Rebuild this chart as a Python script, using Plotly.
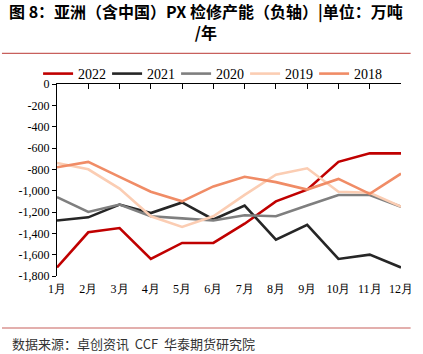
import plotly.graph_objects as go

months = ["1月", "2月", "3月", "4月", "5月", "6月", "7月", "8月", "9月", "10月", "11月", "12月"]
s2022 = [-1720, -1390, -1350, -1640, -1490, -1490, -1310, -1100, -990, -730, -650, -650]
s2021 = [-1280, -1250, -1130, -1210, -1110, -1270, -1140, -1460, -1320, -1640, -1600, -1720]
s2020 = [-1060, -1200, -1130, -1240, -1260, -1280, -1230, -1240, -1140, -1040, -1040, -1150]
s2019 = [-740, -800, -980, -1240, -1340, -1240, -1040, -850, -790, -1010, -1020, -1150]
s2018 = [-780, -730, -870, -1010, -1100, -960, -870, -920, -990, -890, -1030, -840]
y_ticks = [0, -200, -400, -600, -800, -1000, -1200, -1400, -1600, -1800]
y_labels = ["0", "-200", "-400", "-600", "-800", "-1,000", "-1,200", "-1,400", "-1,600", "-1,800"]

series = [
    ("2022", s2022, "#C00000"),
    ("2021", s2021, "#262626"),
    ("2020", s2020, "#7F7F7F"),
    ("2019", s2019, "#FBCDB3"),
    ("2018", s2018, "#F08C66"),
]

fig = go.Figure()
for name, vals, col in series:
    fig.add_trace(go.Scatter(x=months, y=vals, name=name, mode="lines",
                             line=dict(color=col, width=2.6)))
fig.add_trace(go.Scatter(x=months, y=[None] * 12, xaxis="x2", showlegend=False,
                         hoverinfo="skip", mode="lines"))

serif = "'Times New Roman', 'Liberation Serif', serif"
fig.update_layout(
    width=423, height=354,
    margin=dict(l=57, r=10, t=84, b=78),
    paper_bgcolor="white", plot_bgcolor="white",
    showlegend=True,
    legend=dict(orientation="h", x=-0.055, xanchor="left", y=(276 - 74) / 192, yanchor="middle",
                font=dict(family=serif, size=14, color="#000"),
                entrywidth=24, entrywidthmode="pixels", itemwidth=30,
                bgcolor="rgba(0,0,0,0)"),
    xaxis=dict(type="category", categoryorder="array", categoryarray=months,
               range=[0, 11], showline=False, ticks="", showgrid=False,
               tickfont=dict(family=serif, size=12, color="#000"), ticklabelstandoff=4),
    xaxis2=dict(type="category", categoryorder="array", categoryarray=months,
                overlaying="x", side="top", matches="x", showline=True,
                linecolor="#000", linewidth=1, ticks="inside", ticklen=5,
                tickcolor="#000", showticklabels=False, showgrid=False),
    yaxis=dict(range=[-1800, 0], tickvals=y_ticks, ticktext=y_labels,
               showline=True, linecolor="#000", linewidth=1, ticks="outside",
               ticklen=4, tickcolor="#000", showgrid=False, zeroline=False,
               tickfont=dict(family=serif, size=12, color="#000")),
    shapes=[
        dict(type="line", xref="paper", yref="paper", x0=-0.16, x1=1.028,
             y0=1.16, y1=1.16, line=dict(color="#C8605C", width=1.2)),
        dict(type="line", xref="paper", yref="paper", x0=-0.16, x1=1.028,
             y0=-(328 - 276) / 192, y1=-(328 - 276) / 192,
             line=dict(color="#C8605C", width=1.2)),
    ],
    annotations=[
        dict(text="<b>图 8：亚洲（含中国）PX 检修产能（负轴）|单位：万吨<br>/年</b>",
             xref="paper", yref="paper", x=(211 - 57) / 356, y=(276 - 21) / 192,
             xanchor="center", yanchor="middle", showarrow=False, align="center",
             font=dict(family="Noto Sans CJK SC", size=16, color="#000")),
        dict(text="数据来源：卓创资讯  CCF  华泰期货研究院",
             xref="paper", yref="paper", x=(8 - 57) / 356, y=-(343 - 276) / 192,
             xanchor="left", yanchor="middle", showarrow=False,
             font=dict(family="Noto Sans CJK SC", size=13, color="#333")),
    ],
)
fig.write_html("out.html")
